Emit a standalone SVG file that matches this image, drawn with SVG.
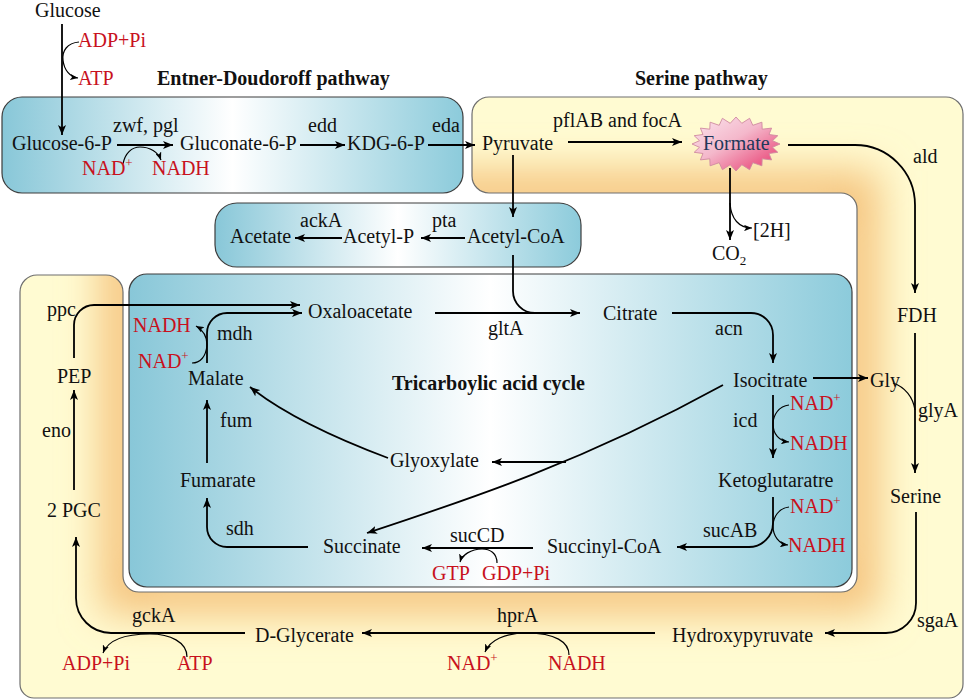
<svg xmlns="http://www.w3.org/2000/svg" width="965" height="699" viewBox="0 0 965 699">
<style>
.t{font-family:"Liberation Serif","Times New Roman",serif;font-size:20px;fill:#111}
.r{fill:#c8111d}
.b{font-weight:bold}
.nv{fill:#22375a}
.c{fill:none;stroke:#000;stroke-width:1.8}
.cf{fill:none;stroke:#000;stroke-width:1.2}
.box{stroke:#3d3d3d;stroke-width:1.2}
</style>
<defs>
<linearGradient id="blue" x1="0" y1="0" x2="1" y2="0">
<stop offset="0" stop-color="#88c7d8"/>
<stop offset="0.5" stop-color="#ffffff"/>
<stop offset="1" stop-color="#8ccbdb"/>
</linearGradient>
<linearGradient id="pink" x1="0" y1="0" x2="1" y2="1">
<stop offset="0" stop-color="#fbe6ee"/>
<stop offset="0.45" stop-color="#f4b8cb"/>
<stop offset="1" stop-color="#e73168"/>
</linearGradient>
<clipPath id="yclip">
<path d="M489,97 H946 A17,17 0 0 1 963,114 V684 A14,14 0 0 1 949,698 H34 A14,14 0 0 1 20,684 V292 A17,17 0 0 1 37,275 H106 A17,17 0 0 1 123,292 V576 A16,16 0 0 0 139,592 H841 A16,16 0 0 0 857,576 V209 A16,16 0 0 0 841,193 H489 A17,17 0 0 1 472,176 V114 A17,17 0 0 1 489,97 Z"/>
</clipPath>
<filter id="blur" x="-20%" y="-20%" width="140%" height="140%">
<feGaussianBlur stdDeviation="20"/>
</filter>
<marker id="ah" viewBox="0 0 10 8" refX="10" refY="4" markerWidth="10" markerHeight="8" markerUnits="userSpaceOnUse" orient="auto">
<path d="M0,0 L10,4 L0,8 L2.5,4 Z" fill="#000"/>
</marker>
<marker id="as" viewBox="0 0 10 8" refX="10" refY="4" markerWidth="8" markerHeight="6.4" markerUnits="userSpaceOnUse" orient="auto">
<path d="M0,0 L10,4 L0,8 L2.5,4 Z" fill="#000"/>
</marker>
</defs>

<g id="serine-pathway-frame">
<path d="M489,97 H946 A17,17 0 0 1 963,114 V684 A14,14 0 0 1 949,698 H34 A14,14 0 0 1 20,684 V292 A17,17 0 0 1 37,275 H106 A17,17 0 0 1 123,292 V576 A16,16 0 0 0 139,592 H841 A16,16 0 0 0 857,576 V209 A16,16 0 0 0 841,193 H489 A17,17 0 0 1 472,176 V114 A17,17 0 0 1 489,97 Z" fill="#fffbd2"/>
<g clip-path="url(#yclip)">
<path d="M123,193 H857 V592 H123 Z" fill="none" stroke="#f5c27c" stroke-width="44" filter="url(#blur)"/>
</g>
<path d="M489,97 H946 A17,17 0 0 1 963,114 V684 A14,14 0 0 1 949,698 H34 A14,14 0 0 1 20,684 V292 A17,17 0 0 1 37,275 H106 A17,17 0 0 1 123,292 V576 A16,16 0 0 0 139,592 H841 A16,16 0 0 0 857,576 V209 A16,16 0 0 0 841,193 H489 A17,17 0 0 1 472,176 V114 A17,17 0 0 1 489,97 Z" fill="none" stroke="#6e6e6e" stroke-width="1.2"/>
</g>
<g id="ed-box"><rect x="2" y="97" width="461" height="96" rx="20" fill="url(#blue)" class="box"/></g>
<g id="acetate-box"><rect x="215" y="203" width="366" height="64" rx="22" fill="url(#blue)" class="box"/></g>
<g id="tca-box"><rect x="129" y="274" width="723" height="313" rx="18" fill="url(#blue)" class="box"/></g>

<g id="connectors">
<path class="c" d="M62,24 V135" marker-end="url(#ah)"/>
<path class="cf" d="M79,42 C67,43 62,51 63,60 C64,70 70,77 78,78" marker-end="url(#as)"/>
<path class="c" d="M117,145 H173" marker-end="url(#ah)"/>
<path class="cf" d="M123,164 C125,153 132,147 140,147 C150,147 158,152 161,160" marker-end="url(#as)"/>
<path class="c" d="M300,145 H345" marker-end="url(#ah)"/>
<path class="c" d="M428,145 H475" marker-end="url(#ah)"/>
<path class="c" d="M568,142 H682" marker-end="url(#ah)"/>
<path class="c" d="M513,155 V217" marker-end="url(#ah)"/>
<path class="c" d="M788,145 H855 A60,60 0 0 1 915,205 V293" marker-end="url(#ah)"/>
<path class="c" d="M730,168 V240" marker-end="url(#ah)"/>
<path class="cf" d="M730,203 C731,219 739,228 752,228" marker-end="url(#as)"/>
<path class="c" d="M465,238 H421" marker-end="url(#ah)"/>
<path class="c" d="M342,238 H295" marker-end="url(#ah)"/>
<path class="c" d="M435,313 H540"/>
<path class="c" d="M513,255 V291 A22,22 0 0 0 535,313 H580" marker-end="url(#ah)"/>
<path class="c" d="M74,358 V325 A20,20 0 0 1 94,305 H300" marker-end="url(#ah)"/>
<path class="c" d="M207,363 V333 A20,20 0 0 1 227,313 H302" marker-end="url(#ah)"/>
<path class="cf" d="M192,363 C200,363 206,357 207,345 C207,336 203,330 196,326" marker-end="url(#as)"/>
<path class="c" d="M672,313 H751 A22,22 0 0 1 773,335 V363" marker-end="url(#ah)"/>
<path class="c" d="M813,378 H868" marker-end="url(#ah)"/>
<path class="c" d="M773,395 V458" marker-end="url(#ah)"/>
<path class="cf" d="M789,405 C779,406 773,415 773,424 C773,434 779,441 789,442" marker-end="url(#as)"/>
<path class="c" d="M915,333 V473" marker-end="url(#ah)"/>
<path class="cf" d="M893,383 C905,387 913,397 915,410"/>
<path class="c" d="M773,497 V523 A24,24 0 0 1 749,547 H677" marker-end="url(#ah)"/>
<path class="cf" d="M789,507 C779,508 773,517 773,526 C773,536 779,544 788,545" marker-end="url(#as)"/>
<path class="c" d="M533,548 H422" marker-end="url(#ah)"/>
<path class="cf" d="M497,563 C497,553 490,549 482,549 C471,549 462,555 460,562" marker-end="url(#as)"/>
<path class="c" d="M723,385 C583,462 467,500 367,533" marker-end="url(#ah)"/>
<path class="c" d="M566,462 H492" marker-end="url(#ah)"/>
<path class="c" d="M388,458 C340,440 285,415 250,387" marker-end="url(#ah)"/>
<path class="c" d="M207,463 V400" marker-end="url(#ah)"/>
<path class="c" d="M308,547 H227 A20,20 0 0 1 207,527 V498" marker-end="url(#ah)"/>
<path class="c" d="M74,490 V390" marker-end="url(#ah)"/>
<path class="c" d="M916,512 V603 A30,30 0 0 1 886,633 H825" marker-end="url(#ah)"/>
<path class="c" d="M655,633 H362" marker-end="url(#ah)"/>
<path class="cf" d="M569,655 C569,642 555,633 527,633 C505,633 490,640 485,652" marker-end="url(#as)"/>
<path class="c" d="M245,633 H111 A35,35 0 0 1 76,598 V537" marker-end="url(#ah)"/>
<path class="cf" d="M187,657 C187,642 170,634 150,634 C125,634 108,640 103,653" marker-end="url(#as)"/>
</g>

<g id="titles">
<text class="t b" x="157" y="85">Entner-Doudoroff pathway</text>
<text class="t b" x="635" y="85">Serine pathway</text>
<text class="t b" x="392" y="390">Tricarboylic acid cycle</text>
</g>

<g id="glucose"><text class="t" x="35" y="17">Glucose</text></g>
<g id="glucose-6-p"><text class="t" x="12" y="150">Glucose-6-P</text></g>
<g id="gluconate-6-p"><text class="t" x="180" y="150">Gluconate-6-P</text></g>
<g id="kdg-6-p"><text class="t" x="347" y="150">KDG-6-P</text></g>
<g id="pyruvate"><text class="t" x="482" y="150">Pyruvate</text></g>
<g id="formate">
<polygon points="780,144 772.5,147.3 777.8,152.3 769,153.5 771.6,159.9 762.2,158.8 761.9,165.8 752.8,162.7 749.6,169.7 741.8,164.7 736,171 730.2,164.7 722.4,169.7 719.2,162.7 710.1,165.8 709.8,158.8 700.4,159.9 703,153.5 694.2,152.3 699.5,147.3 692,144 699.5,140.7 694.2,135.7 703,134.5 700.4,128.1 709.8,129.2 710.1,122.2 719.2,125.3 722.4,118.3 730.2,123.3 736,117 741.8,123.3 749.6,118.3 752.8,125.3 761.9,122.2 762.2,129.2 771.6,128.1 769,134.5 777.8,135.7 772.5,140.7" fill="url(#pink)" stroke="#cf8aa0" stroke-width="0.9"/>
<text class="t nv" x="703" y="150">Formate</text>
</g>
<g id="h2"><text class="t" x="753" y="237">[2H]</text></g>
<g id="co2"><text class="t" x="712" y="260">CO<tspan font-size="13" dy="5">2</tspan></text></g>
<g id="acetate"><text class="t" x="230" y="243">Acetate</text></g>
<g id="acetyl-p"><text class="t" x="343" y="243">Acetyl-P</text></g>
<g id="acetyl-coa"><text class="t" x="467" y="243">Acetyl-CoA</text></g>
<g id="oxaloacetate"><text class="t" x="308" y="318">Oxaloacetate</text></g>
<g id="citrate"><text class="t" x="603" y="320">Citrate</text></g>
<g id="fdh"><text class="t" x="897" y="322">FDH</text></g>
<g id="pep"><text class="t" x="57" y="383">PEP</text></g>
<g id="malate"><text class="t" x="188" y="385">Malate</text></g>
<g id="isocitrate"><text class="t" x="733" y="387">Isocitrate</text></g>
<g id="gly"><text class="t" x="870" y="387">Gly</text></g>
<g id="glyoxylate"><text class="t" x="390" y="467">Glyoxylate</text></g>
<g id="fumarate"><text class="t" x="180" y="487">Fumarate</text></g>
<g id="ketoglutarate"><text class="t" x="718" y="487">Ketoglutaratre</text></g>
<g id="serine"><text class="t" x="890" y="503">Serine</text></g>
<g id="pgc"><text class="t" x="47" y="517">2 PGC</text></g>
<g id="succinate"><text class="t" x="323" y="553">Succinate</text></g>
<g id="succinyl-coa"><text class="t" x="547" y="553">Succinyl-CoA</text></g>
<g id="d-glycerate"><text class="t" x="255" y="642">D-Glycerate</text></g>
<g id="hydroxypyruvate"><text class="t" x="672" y="642">Hydroxypyruvate</text></g>

<g id="enzymes">
<text class="t" x="113" y="132">zwf, pgl</text>
<text class="t" x="308" y="132">edd</text>
<text class="t" x="432" y="132">eda</text>
<text class="t" x="553" y="127">pflAB and focA</text>
<text class="t" x="913" y="163">ald</text>
<text class="t" x="300" y="227">ackA</text>
<text class="t" x="432" y="227">pta</text>
<text class="t" x="47" y="316">ppc</text>
<text class="t" x="488" y="335">gltA</text>
<text class="t" x="715" y="335">acn</text>
<text class="t" x="217" y="340">mdh</text>
<text class="t" x="918" y="417">glyA</text>
<text class="t" x="733" y="427">icd</text>
<text class="t" x="220" y="427">fum</text>
<text class="t" x="42" y="437">eno</text>
<text class="t" x="226" y="535">sdh</text>
<text class="t" x="703" y="537">sucAB</text>
<text class="t" x="450" y="542">sucCD</text>
<text class="t" x="132" y="622">gckA</text>
<text class="t" x="497" y="622">hprA</text>
<text class="t" x="917" y="627">sgaA</text>
</g>

<g id="cofactors">
<text class="t r" x="78" y="47">ADP+Pi</text>
<text class="t r" x="78" y="85">ATP</text>
<text class="t r" x="82" y="175">NAD<tspan font-size="13" dy="-8">+</tspan></text>
<text class="t r" x="152" y="175">NADH</text>
<text class="t r" x="133" y="332">NADH</text>
<text class="t r" x="138" y="368">NAD<tspan font-size="13" dy="-8">+</tspan></text>
<text class="t r" x="790" y="410">NAD<tspan font-size="13" dy="-8">+</tspan></text>
<text class="t r" x="790" y="450">NADH</text>
<text class="t r" x="790" y="513">NAD<tspan font-size="13" dy="-8">+</tspan></text>
<text class="t r" x="788" y="552">NADH</text>
<text class="t r" x="432" y="580">GTP</text>
<text class="t r" x="482" y="580">GDP+Pi</text>
<text class="t r" x="62" y="670">ADP+Pi</text>
<text class="t r" x="177" y="670">ATP</text>
<text class="t r" x="447" y="670">NAD<tspan font-size="13" dy="-8">+</tspan></text>
<text class="t r" x="548" y="670">NADH</text>
</g>
</svg>
